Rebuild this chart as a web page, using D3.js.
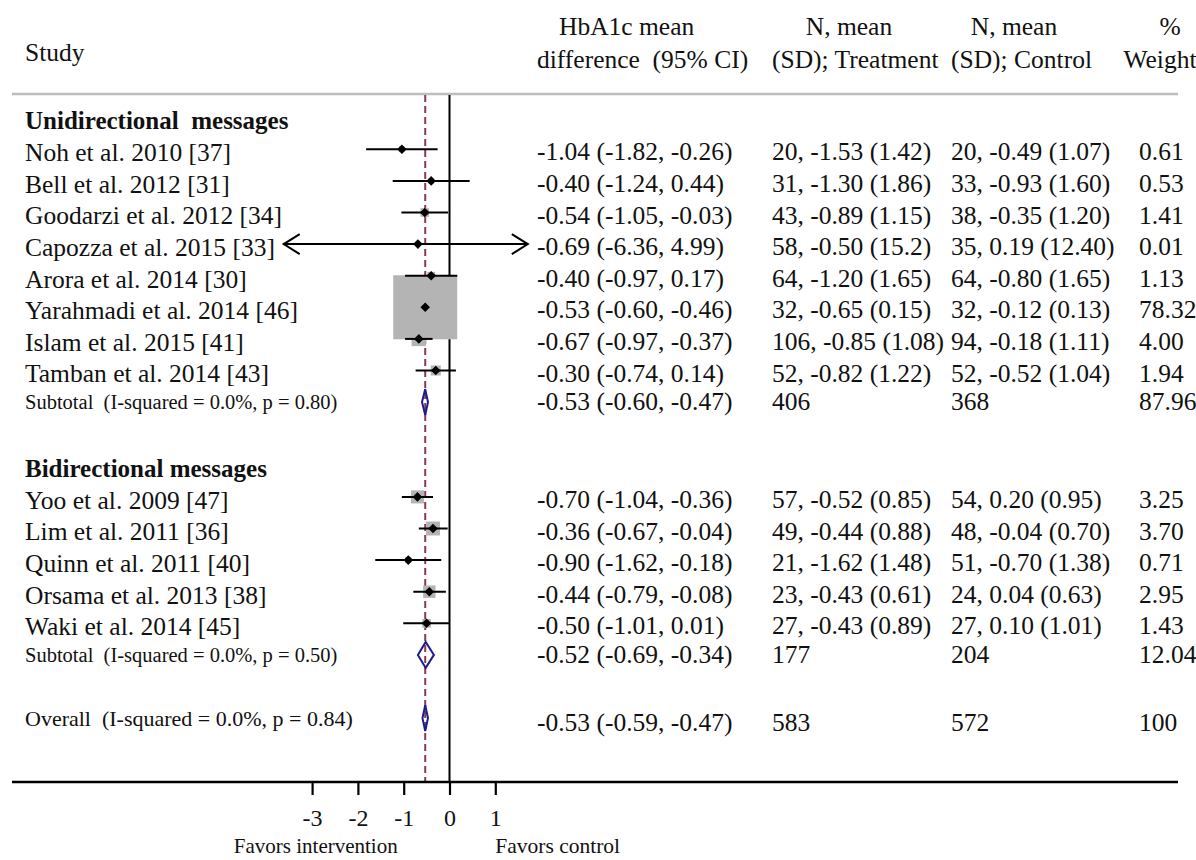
<!DOCTYPE html>
<html>
<head>
<meta charset="utf-8">
<script src="https://cdn.jsdelivr.net/npm/d3@7"></script>
<style>
  html, body { margin: 0; padding: 0; background: #fff; }
  svg text { font-family: "Liberation Serif", "Times New Roman", serif; fill: #111; white-space: pre; }
</style>
</head>
<body>
<svg id="chart" width="1196" height="860"></svg>
<script>
// ---------- DATA ----------
const groupNames = ["Unidirectional  messages", "Bidirectional messages"];

const uniStudies = ["Noh et al. 2010 [37]", "Bell et al. 2012 [31]", "Goodarzi et al. 2012 [34]", "Capozza et al. 2015 [33]",
  "Arora et al. 2014 [30]", "Yarahmadi et al. 2014 [46]", "Islam et al. 2015 [41]", "Tamban et al. 2014 [43]"];
const uniEst = [-1.04, -0.40, -0.54, -0.69, -0.40, -0.53, -0.67, -0.30];
const uniLo  = [-1.82, -1.24, -1.05, -6.36, -0.97, -0.60, -0.97, -0.74];
const uniHi  = [-0.26,  0.44, -0.03,  4.99,  0.17, -0.46, -0.37,  0.14];
const uniTreat = ["20, -1.53 (1.42)", "31, -1.30 (1.86)", "43, -0.89 (1.15)", "58, -0.50 (15.2)",
  "64, -1.20 (1.65)", "32, -0.65 (0.15)", "106, -0.85 (1.08)", "52, -0.82 (1.22)"];
const uniCtrl = ["20, -0.49 (1.07)", "33, -0.93 (1.60)", "38, -0.35 (1.20)", "35, 0.19 (12.40)",
  "64, -0.80 (1.65)", "32, -0.12 (0.13)", "94, -0.18 (1.11)", "52, -0.52 (1.04)"];
const uniWeight = [0.61, 0.53, 1.41, 0.01, 1.13, 78.32, 4.00, 1.94];
const uniSubtotal = { label: "Subtotal  (I-squared = 0.0%, p = 0.80)", est: -0.53, lo: -0.60, hi: -0.47, treat: "406", ctrl: "368", weight: 87.96 };

const biStudies = ["Yoo et al. 2009 [47]", "Lim et al. 2011 [36]", "Quinn et al. 2011 [40]", "Orsama et al. 2013 [38]", "Waki et al. 2014 [45]"];
const biEst = [-0.70, -0.36, -0.90, -0.44, -0.50];
const biLo  = [-1.04, -0.67, -1.62, -0.79, -1.01];
const biHi  = [-0.36, -0.04, -0.18, -0.08,  0.01];
const biTreat = ["57, -0.52 (0.85)", "49, -0.44 (0.88)", "21, -1.62 (1.48)", "23, -0.43 (0.61)", "27, -0.43 (0.89)"];
const biCtrl  = ["54, 0.20 (0.95)", "48, -0.04 (0.70)", "51, -0.70 (1.38)", "24, 0.04 (0.63)", "27, 0.10 (1.01)"];
const biWeight = [3.25, 3.70, 0.71, 2.95, 1.43];
const biSubtotal = { label: "Subtotal  (I-squared = 0.0%, p = 0.50)", est: -0.52, lo: -0.69, hi: -0.34, treat: "177", ctrl: "204", weight: 12.04 };

const overall = { label: "Overall  (I-squared = 0.0%, p = 0.84)", est: -0.53, lo: -0.59, hi: -0.47, treat: "583", ctrl: "572", weight: 100 };

const xTicks = [-3, -2, -1, 0, 1];
const xClip = [-3.62, 1.71];   // plotted range of CI lines (beyond -> arrows)

// ---------- ROWS ----------
const rows = [];
function addGroup(name, st, est, lo, hi, tr, ct, w, sub) {
  rows.push({ type: "header", label: name });
  st.forEach((s, i) => rows.push({ type: "study", label: s, est: est[i], lo: lo[i], hi: hi[i], treat: tr[i], ctrl: ct[i], weight: w[i] }));
  rows.push(Object.assign({ type: "subtotal" }, sub));
  rows.push({ type: "blank" });
}
addGroup(groupNames[0], uniStudies, uniEst, uniLo, uniHi, uniTreat, uniCtrl, uniWeight, uniSubtotal);
addGroup(groupNames[1], biStudies, biEst, biLo, biHi, biTreat, biCtrl, biWeight, biSubtotal);
rows.push(Object.assign({ type: "overall" }, overall));
rows.forEach((r, i) => r.idx = i);

// ---------- SCALES ----------
const svg = d3.select("#chart");
const x = d3.scaleLinear().domain([-3, 1]).range([312.1, 495.3]);
const y = d3.scaleLinear().domain([0, 1]).range([117.7, 149.3]);
const boxSide = d3.scaleSqrt().domain([0, 78.32]).range([0, 64]);

const axisY = 782, topY = 94;
const colCI = 537, colT = 772, colC = 951, colW = 1139, colLabel = 25;
const FS = 25.5;

// ---------- HEADER ----------
const hdr = svg.append("g").attr("font-size", FS);
hdr.append("text").attr("x", colLabel).attr("y", 61).text("Study");
hdr.append("text").attr("x", 559).attr("y", 35).text("HbA1c mean");
hdr.append("text").attr("x", colCI).attr("y", 68).text("difference  (95% CI)");
hdr.append("text").attr("x", 849).attr("y", 35).attr("text-anchor", "middle").text("N, mean");
hdr.append("text").attr("x", colT).attr("y", 68).text("(SD); Treatment");
hdr.append("text").attr("x", 1014).attr("y", 35).attr("text-anchor", "middle").text("N, mean");
hdr.append("text").attr("x", colC).attr("y", 68).text("(SD); Control");
hdr.append("text").attr("x", 1170).attr("y", 35).attr("text-anchor", "middle").text("%");
hdr.append("text").attr("x", 1160).attr("y", 68).attr("text-anchor", "middle").text("Weight");

svg.append("line").attr("x1", 12).attr("x2", 1178).attr("y1", topY).attr("y2", topY)
  .attr("stroke", "#bdbdbd").attr("stroke-width", 2.5);

// ---------- REFERENCE LINES ----------
svg.append("line").attr("x1", x(0)).attr("x2", x(0)).attr("y1", topY + 1).attr("y2", axisY)
  .attr("stroke", "#000").attr("stroke-width", 2);
svg.append("line").attr("x1", x(overall.est)).attr("x2", x(overall.est)).attr("y1", topY + 1).attr("y2", axisY)
  .attr("stroke", "#8a3a4d").attr("stroke-width", 2).attr("stroke-dasharray", "7,4");

// ---------- BOXES ----------
const studiesRows = rows.filter(r => r.type === "study");
svg.append("g").selectAll("rect").data(studiesRows).join("rect")
  .attr("x", d => x(d.est) - boxSide(d.weight) / 2)
  .attr("y", d => y(d.idx) - boxSide(d.weight) / 2)
  .attr("width", d => boxSide(d.weight))
  .attr("height", d => boxSide(d.weight))
  .attr("fill", "#b4b4b4");

// ---------- CI LINES ----------
const ciG = svg.append("g").attr("stroke", "#000").attr("stroke-width", 2).attr("fill", "none");
studiesRows.forEach(d => {
  const lo = Math.max(d.lo, xClip[0]), hi = Math.min(d.hi, xClip[1]);
  const yy = y(d.idx);
  ciG.append("line").attr("x1", x(lo)).attr("x2", x(hi)).attr("y1", yy).attr("y2", yy);
  if (d.lo < xClip[0]) {
    ciG.append("path").attr("d", `M${x(lo) + 16},${yy - 10}L${x(lo)},${yy}L${x(lo) + 16},${yy + 10}`);
  }
  if (d.hi > xClip[1]) {
    ciG.append("path").attr("d", `M${x(hi) - 16},${yy - 10}L${x(hi)},${yy}L${x(hi) - 16},${yy + 10}`);
  }
});

// ---------- POINTS ----------
svg.append("g").selectAll("path").data(studiesRows).join("path")
  .attr("d", d => { const cx = x(d.est), cy = y(d.idx), r = 4.8; return `M${cx},${cy - r}L${cx + r},${cy}L${cx},${cy + r}L${cx - r},${cy}Z`; })
  .attr("fill", "#000");

// ---------- DIAMONDS ----------
const pooled = rows.filter(r => r.type === "subtotal" || r.type === "overall");
svg.append("g").selectAll("path").data(pooled).join("path")
  .attr("d", d => { const cy = y(d.idx), h = 13; return `M${x(d.lo)},${cy}L${x(d.est)},${cy - h}L${x(d.hi)},${cy}L${x(d.est)},${cy + h}Z`; })
  .attr("fill", "none").attr("stroke", "#1c1c8c").attr("stroke-width", 2);

// ---------- TEXT COLUMNS ----------
const fmt = v => v.toFixed(2);
const txt = svg.append("g");
rows.forEach(r => {
  const cy = y(r.idx);
  if (r.type === "header") {
    txt.append("text").attr("x", colLabel).attr("y", cy + 11.6).attr("font-size", 25).attr("font-weight", "bold").text(r.label);
  } else if (r.type === "study" || r.type === "subtotal" || r.type === "overall") {
    const lblSize = r.type === "study" ? FS : (r.type === "subtotal" ? 20.5 : 22);
    const lblOff = r.type === "study" ? 11.8 : (r.type === "subtotal" ? 6.8 : 8.2);
    const numOff = r.type === "study" ? 11 : (r.type === "subtotal" ? 8.2 : 13);
    txt.append("text").attr("x", colLabel).attr("y", cy + lblOff).attr("font-size", lblSize).text(r.label);
    const ci = `${fmt(r.est)} (${fmt(r.lo)}, ${fmt(r.hi)})`;
    txt.append("text").attr("x", colCI).attr("y", cy + numOff).attr("font-size", FS).text(ci);
    txt.append("text").attr("x", colT).attr("y", cy + numOff).attr("font-size", FS).text(r.treat);
    txt.append("text").attr("x", colC).attr("y", cy + numOff).attr("font-size", FS).text(r.ctrl);
    txt.append("text").attr("x", colW).attr("y", cy + numOff).attr("font-size", FS)
      .text(r.weight === 100 ? "100" : fmt(r.weight));
  }
});

// ---------- AXIS ----------
svg.append("line").attr("x1", 12).attr("x2", 1178).attr("y1", axisY).attr("y2", axisY)
  .attr("stroke", "#000").attr("stroke-width", 2.5);
const ax = svg.append("g").attr("transform", `translate(0,${axisY})`)
  .call(d3.axisBottom(x).tickValues(xTicks).tickSize(13).tickFormat(d => String(d)));
ax.select(".domain").remove();
ax.selectAll(".tick line").attr("stroke", "#000").attr("stroke-width", 2.2);
ax.selectAll(".tick text").attr("dy", null).attr("y", 44).attr("font-size", 24)
  .attr("font-family", "Liberation Serif, Times New Roman, serif").attr("fill", "#111");

svg.append("text").attr("x", x(-1) - 6).attr("y", 853).attr("text-anchor", "end").attr("font-size", 21).text("Favors intervention");
svg.append("text").attr("x", x(1)).attr("y", 853).attr("font-size", 21.5).text("Favors control");
</script>
</body>
</html>
